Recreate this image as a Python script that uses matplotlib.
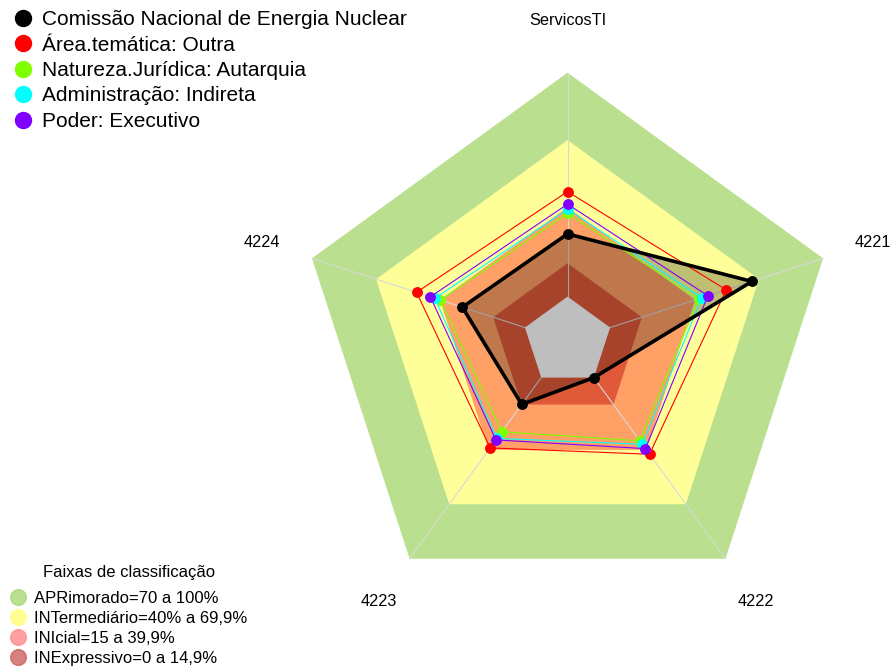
import numpy as np
import matplotlib
matplotlib.use("Agg")
import matplotlib.pyplot as plt
from matplotlib.lines import Line2D

plt.rcParams['font.family'] = ['Liberation Sans', 'DejaVu Sans']

# ---------------- data ----------------
categories = ["ServicosTI", "4221", "4222", "4223", "4224"]

series_names = ["Comissão Nacional de Energia Nuclear",
                "Área.temática: Outra",
                "Natureza.Jurídica: Autarquia",
                "Administração: Indireta",
                "Poder: Executivo"]

comissao = [28.0, 66.6, 0.0, 14.8, 29.4]
area_outra = [46.9, 54.5, 42.3, 38.8, 50.9]
natureza_autarquia = [37.2, 41.5, 34.9, 29.9, 39.7]
administracao_indireta = [39.0, 43.0, 36.8, 33.6, 42.3]
poder_executivo = [41.3, 45.9, 39.2, 34.4, 44.4]

band_levels = [100.0, 69.9, 39.9, 14.9]
band_labels = ["APRimorado=70 a 100%",
               "INTermediário=40% a 69,9%",
               "INIcial=15 a 39,9%",
               "INExpressivo=0 a 14,9%"]

# ---------------- styles ----------------
band_fill_colors = ["#BAE08F", "#FFFF99", "#FFA066", "#E05A3A"]
band_legend_colors = ["#A6D877", "#FFFF7A", "#FF8A8A", "#CC6060"]
series_colors = ["#000000", "#FF0000", "#80FF00", "#00FFFF", "#8000FF"]

fig = plt.figure(figsize=(8.92, 6.68), dpi=100)
ax = fig.add_axes([0.3350, 0.0867, 0.6025, 0.8045], projection='polar')
ax.set_theta_offset(np.pi / 2)
ax.set_theta_direction(-1)
ax.set_ylim(0, 100)
ax.set_rorigin(-20)
ax.axis('off')

n = len(categories)
angles = np.linspace(0, 2 * np.pi, n, endpoint=False)
theta = np.concatenate([angles, angles[:1]])


def closed(vals):
    v = list(vals)
    return v + v[:1]


# bands
for lvl, col in zip(band_levels, band_fill_colors):
    ax.fill(theta, [lvl] * (n + 1), color=col, lw=0, zorder=1, clip_on=False)

# spokes
for t in angles:
    ax.plot([t, t], [0, 100], color="#D8D8D8", lw=0.8, zorder=2, clip_on=False)

# translucent fill of the organisation
ax.fill(theta, closed(comissao), color="black", alpha=0.25, lw=0, zorder=3, clip_on=False)

# centre hole
ax.fill(theta, [0] * (n + 1), color="#BEBEBE", lw=0, zorder=4, clip_on=False)

# comparison series
others = [area_outra, natureza_autarquia, administracao_indireta, poder_executivo]
for i, (vals, col) in enumerate(zip(others, series_colors[1:])):
    ax.plot(theta, closed(vals), color=col, lw=0.8, zorder=5 + i * 0.1, clip_on=False)
    ax.plot(angles, vals, ls='', marker='o', ms=6.8, color=col,
            zorder=5.05 + i * 0.1, clip_on=False)

# organisation
ax.plot(theta, closed(comissao), color="black", lw=2.6, zorder=7, clip_on=False)
ax.plot(angles, comissao, ls='', marker='o', ms=6.8, color="black", zorder=7.1, clip_on=False)

# category labels
for t, lab in zip(angles, categories):
    ax.text(t, 123.4, lab, ha='center', va='center', fontsize=11.7, clip_on=False)

# legend: series
h1 = [Line2D([], [], ls='', marker='o', ms=11.5, color=c) for c in series_colors]
fig.legend(h1, series_names, loc='upper left', bbox_to_anchor=(12.6 / 892, 1 - 10.1 / 668),
           bbox_transform=fig.transFigure, frameon=False, fontsize=15,
           handlelength=1.0, handletextpad=0.4, labelspacing=0.31, borderpad=0,
           borderaxespad=0)

# legend: bands
h2 = [Line2D([], [], ls='', marker='o', ms=11.3, markerfacecolor=c, markeredgecolor=c,
             alpha=0.8) for c in band_legend_colors]
leg2 = fig.legend(h2, band_labels, loc='lower left', bbox_to_anchor=(10 / 892, 1.8 / 668),
                  bbox_transform=fig.transFigure, frameon=False, fontsize=12,
                  title="Faixas de classificação", title_fontsize=12,
                  handlelength=1.0, handletextpad=0.44, labelspacing=0.31, borderpad=0,
                  borderaxespad=0)
leg2._legend_box.sep = 7.5

fig.savefig("out.png", dpi=100)
